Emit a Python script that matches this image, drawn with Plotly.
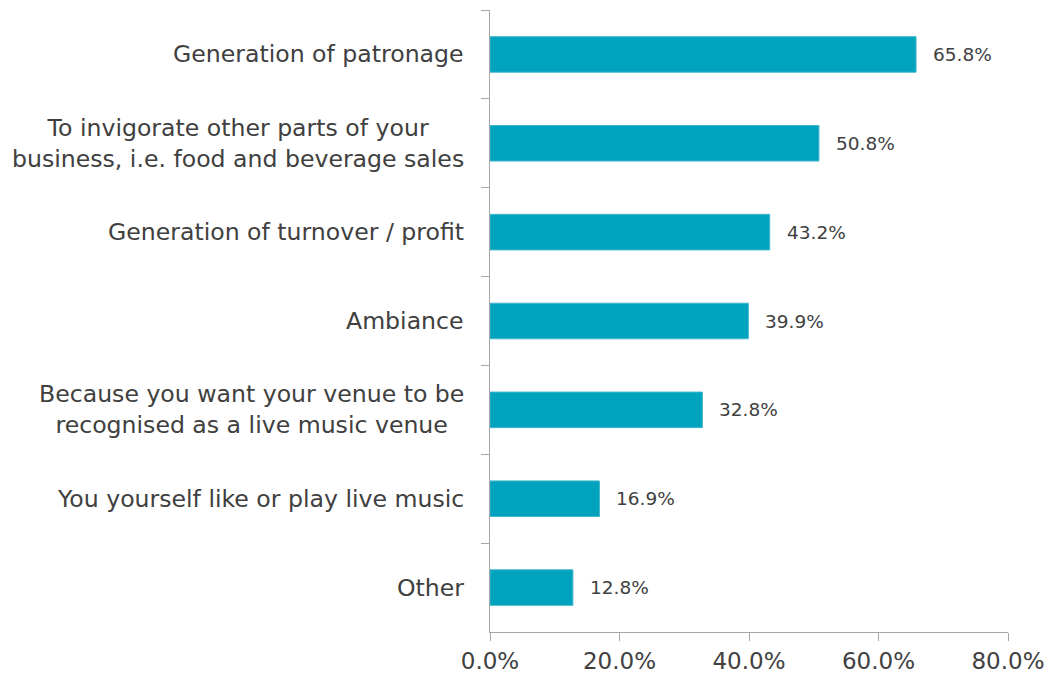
import plotly.graph_objects as go

categories = [
    "Generation of patronage",
    "To invigorate other parts of your<br>business, i.e. food and beverage sales",
    "Generation of turnover / profit",
    "Ambiance",
    "Because you want your venue to be<br>recognised as a live music venue",
    "You yourself like or play live music",
    "Other",
]
values = [65.8, 50.8, 43.2, 39.9, 32.8, 16.9, 12.8]
x_ticks = [0, 20, 40, 60, 80]
x_tick_labels = ["0.0%", "20.0%", "40.0%", "60.0%", "80.0%"]

BAR = "#00A3BD"
AXIS = "#A6A6A6"
TEXT = "#404040"
FONT = "DejaVu Sans"

fig = go.Figure(
    go.Bar(
        x=values,
        y=categories,
        orientation="h",
        width=0.4,
        marker=dict(color=BAR, line=dict(color="#3FB6CB", width=1)),
        hoverinfo="skip",
    )
)

annotations = []
# value labels to the right of each bar
for c, v in zip(categories, values):
    annotations.append(dict(
        x=v, y=c, xref="x", yref="y", text=f"{v:.1f}%",
        showarrow=False, xanchor="left", yanchor="middle", xshift=15,
        font=dict(family=FONT, size=18.5, color=TEXT),
    ))
# category labels, centred per line and right-aligned against the axis
for c in categories:
    annotations.append(dict(
        x=0, y=c, xref="paper", yref="y", text=c,
        showarrow=False, xanchor="right", yanchor="middle", xshift=-24,
        align="center",
        font=dict(family=FONT, size=23.6, color=TEXT),
    ))

fig.update_layout(
    width=1061, height=677,
    margin=dict(l=490, r=53, t=10, b=45),
    paper_bgcolor="white", plot_bgcolor="white",
    showlegend=False,
    annotations=annotations,
)
fig.update_xaxes(
    range=[0, 80], tickvals=x_ticks, ticktext=x_tick_labels,
    automargin=False,
    showgrid=False, zeroline=False,
    showline=True, linecolor=AXIS, linewidth=1,
    ticks="outside", ticklen=8, tickcolor=AXIS, tickwidth=1,
    tickfont=dict(family=FONT, size=23, color=TEXT),
)
fig.update_yaxes(
    autorange="reversed", showticklabels=False, automargin=False,
    showgrid=False, zeroline=False,
    showline=True, linecolor=AXIS, linewidth=1,
    ticks="outside", ticklen=8, tickcolor=AXIS, tickwidth=1,
    tickson="boundaries",
)

fig.write_html("out.html")
